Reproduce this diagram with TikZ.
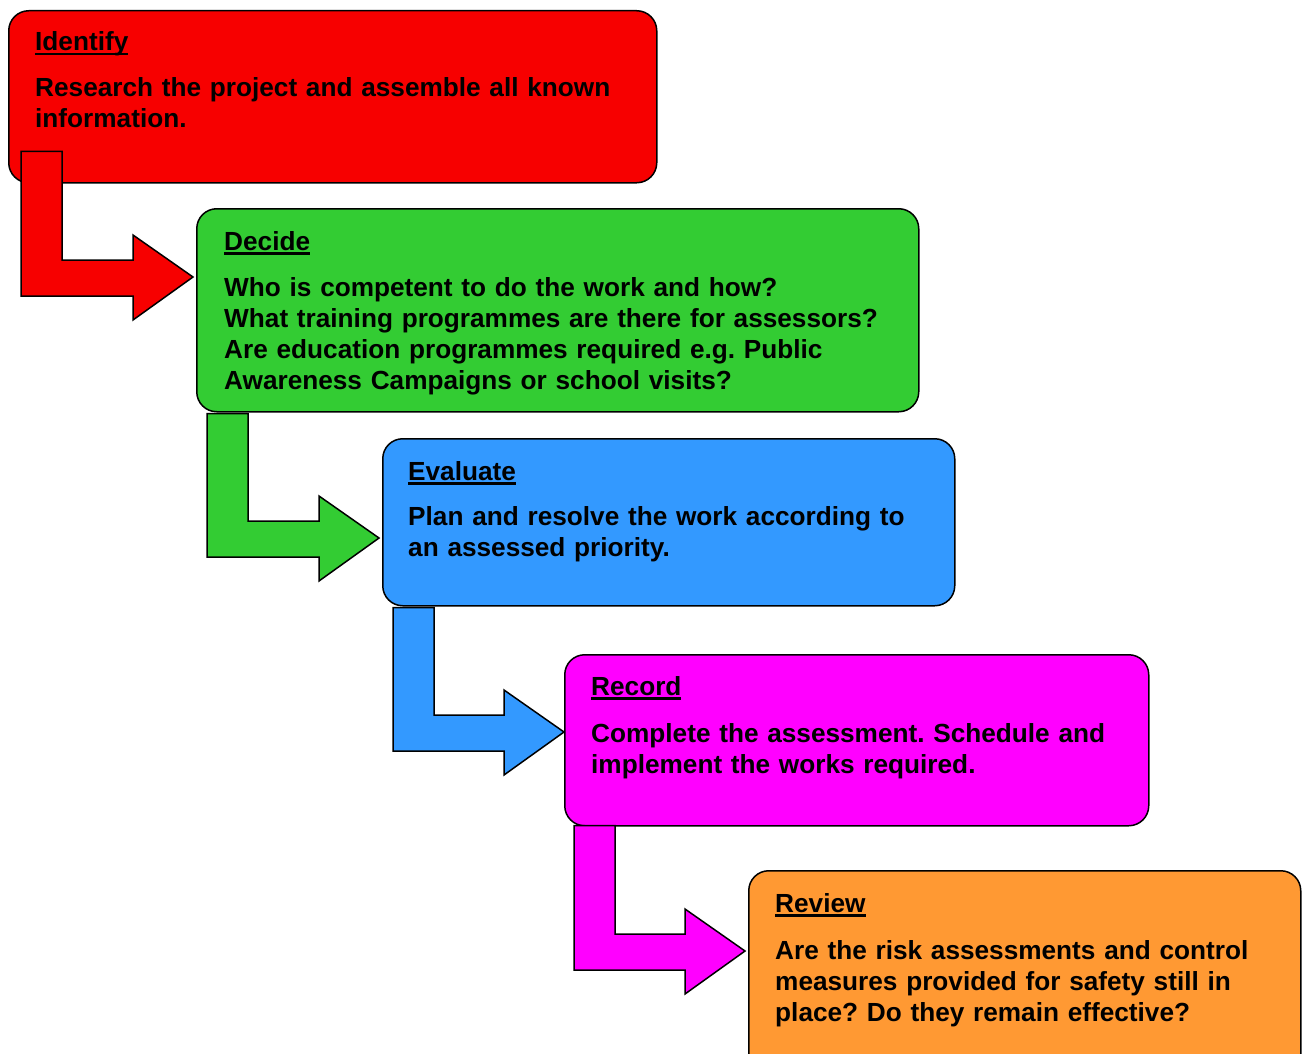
\documentclass[tikz,border=0pt]{standalone}
\usepackage{fontspec}
\setmainfont{Liberation Sans}
\usetikzlibrary{calc}

\definecolor{idred}{HTML}{F70000}
\definecolor{decgreen}{HTML}{33CC33}
\definecolor{evalblue}{HTML}{3399FF}
\definecolor{recmagenta}{HTML}{FF00FF}
\definecolor{revorange}{HTML}{FF9933}

\newsavebox{\headbox}
\newcommand{\stephead}[1]{\sbox{\headbox}{#1}\rlap{\rule[-4.5pt]{\wd\headbox}{2.4pt}}\usebox{\headbox}}

% bent arrow: colour, top left of the shaft, tip
\newcommand{\stagearrow}[3]{%
  \draw[arrowline, fill=#1] let \p1=(#2), \p2=(#3) in
    (\p2) -- (\x2-60pt,\y2+42pt) -- (\x2-60pt,\y2+17pt) -- (\x1+41pt,\y2+17pt)
    -- (\x1+41pt,\y1) -- (\p1) -- (\x1,\y2-19pt) -- (\x2-60pt,\y2-19pt)
    -- (\x2-60pt,\y2-43pt) -- cycle;}

\tikzset{
  stagebox/.style={draw=black, line width=1.5pt, rounded corners=20pt,
    anchor=north west, inner sep=0pt},
  stagetitle/.style={anchor=base west, inner sep=0pt,
    font=\frenchspacing\bfseries\fontsize{26.2}{31}\selectfont},
  stagetext/.style={anchor=base west, inner sep=0pt, align=left,
    font=\frenchspacing\bfseries\fontsize{26.2}{31}\selectfont},
  arrowline/.style={draw=black, line width=1.5pt, line join=miter},
}

\begin{document}
\begin{tikzpicture}[x=1pt, y=-1pt]
  \clip (0,0) rectangle (1304,1054);

  % boxes
  \node[stagebox, fill=idred, minimum width=648pt, minimum height=172pt] (idf) at (8,10) {};
  \node[stagebox, fill=decgreen, minimum width=722pt, minimum height=203pt] (dec) at (196,208) {};
  \node[stagebox, fill=evalblue, minimum width=572pt, minimum height=167pt] (eva) at (382,438) {};
  \node[stagebox, fill=recmagenta, minimum width=584pt, minimum height=171pt] (rec) at (564,654) {};
  \node[stagebox, fill=revorange, minimum width=552pt, minimum height=220pt] (rev) at (748,870) {};

  % texts
  \node[stagetitle] (idfhead) at ($(idf.north west)+(27,41)$) {\stephead{Identify}};
  \node[stagetext, text width=600pt] (idftext) at ($(idf.north west)+(27,87)$)
    {Research the project and assemble all known\\information.};

  \node[stagetitle] (dechead) at ($(dec.north west)+(28,42)$) {\stephead{Decide}};
  \node[stagetext, text width=680pt] (dectext) at ($(dec.north west)+(28,88)$)
    {Who is competent to do the work and how?\\What training programmes are there for assessors?\\Are education programmes required e.g. Public\\Awareness Campaigns or school visits?};

  \node[stagetitle] (evahead) at ($(eva.north west)+(26,42)$) {\stephead{Evaluate}};
  \node[stagetext, text width=530pt] (evatext) at ($(eva.north west)+(26,87)$)
    {Plan and resolve the work according to\\an assessed priority.};

  \node[stagetitle] (rechead) at ($(rec.north west)+(27,41)$) {\stephead{Record}};
  \node[stagetext, text width=540pt] (rectext) at ($(rec.north west)+(27,88)$)
    {Complete the assessment. Schedule and\\implement the works required.};

  \node[stagetitle] (revhead) at ($(rev.north west)+(27,42)$) {\stephead{Review}};
  \node[stagetext, text width=510pt] (revtext) at ($(rev.north west)+(27,89)$)
    {Are the risk assessments and control\\measures provided for safety still in\\place? Do they remain effective?};

  % arrows
  \coordinate (a1) at ($(idf.south west)+(13,-32)$);
  \coordinate (t1) at ($(dec.north west)+(-3,69)$);
  \coordinate (a2) at ($(dec.south west)+(11,1)$);
  \coordinate (t2) at ($(eva.north west)+(-3,100)$);
  \coordinate (a3) at ($(eva.south west)+(11,1)$);
  \coordinate (t3) at ($(rec.north west)+(0,78)$);
  \coordinate (a4) at ($(rec.south west)+(10,-1)$);
  \coordinate (t4) at ($(rev.north west)+(-3,81)$);

  \stagearrow{idred}{a1}{t1}
  \stagearrow{decgreen}{a2}{t2}
  \stagearrow{evalblue}{a3}{t3}
  \stagearrow{recmagenta}{a4}{t4}
\end{tikzpicture}
\end{document}
